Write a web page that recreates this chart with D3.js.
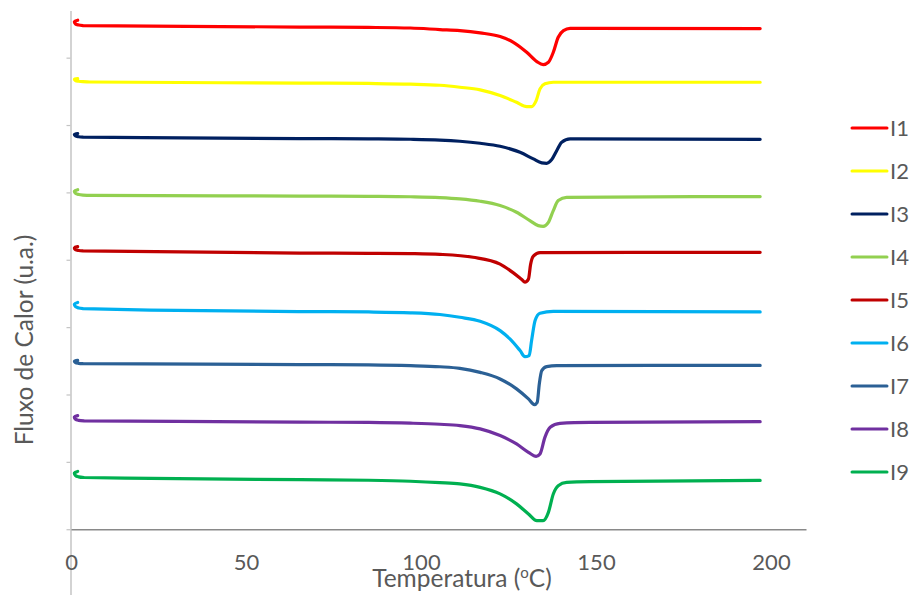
<!DOCTYPE html>
<html>
<head>
<meta charset="utf-8">
<script src="https://cdn.jsdelivr.net/npm/d3@7"></script>
<style>
  html, body { margin: 0; padding: 0; background: #ffffff; }
  svg { display: block; }
  text { font-family: Lato, "Open Sans", "Liberation Sans", sans-serif; fill: #595959; }
</style>
</head>
<body>
<svg id="chart" width="911" height="595"></svg>
<script>
// DSC thermograms: [temperature (°C), heat flow (arbitrary units, stacked)]
// The first five points of each run are the start-up transient, which curls back.
const seriesNames = ["I1", "I2", "I3", "I4", "I5", "I6", "I7", "I8", "I9"];
const seriesColors = ["#ff0000", "#ffff00", "#002060", "#92d050", "#c00000",
                      "#00b0f0", "#2b6095", "#7030a0", "#00b050"];

const I1 = [[1.9, 7.556], [1.0, 7.536], [1.3, 7.500], [2.2, 7.484], [3.4, 7.476],
  [65.4, 7.454], [85, 7.449], [97, 7.440], [105.4, 7.417],
  [111.1, 7.402], [116.9, 7.368], [122.6, 7.313], [126.4, 7.228], [130.2, 7.080],
  [133.1, 6.942], [134.9, 6.897], [136.4, 6.932], [137.8, 7.080], [139.2, 7.303],
  [140.7, 7.402], [142.6, 7.436], [148.3, 7.436], [196.9, 7.432]];
const I2 = [[1.9, 6.688], [1.0, 6.678], [1.3, 6.658], [2.2, 6.650], [3.4, 6.645],
  [5.4, 6.639], [65.4, 6.623], [85, 6.617], [97, 6.607],
  [105.4, 6.590], [111.1, 6.561], [116.9, 6.522], [122.6, 6.437], [127.3, 6.338],
  [130.2, 6.274], [131.6, 6.274], [132.9, 6.363], [134.0, 6.537], [135.4, 6.611],
  [137.8, 6.635], [196.9, 6.635]];
const I3 = [[1.9, 5.874], [1.0, 5.862], [1.3, 5.837], [2.2, 5.826], [3.4, 5.820],
  [65.4, 5.799], [85, 5.795], [97, 5.789], [105.4, 5.777],
  [111.1, 5.759], [116.9, 5.729], [122.6, 5.685], [128.3, 5.595], [132.1, 5.497],
  [134.5, 5.438], [135.9, 5.432], [137.3, 5.483], [138.8, 5.621], [140.2, 5.744],
  [142.6, 5.794], [196.9, 5.788]];
const I4 = [[1.9, 5.040], [1.0, 5.020], [1.3, 4.985], [2.2, 4.968], [3.4, 4.960],
  [5.4, 4.956], [65.4, 4.945], [85, 4.941], [97, 4.935],
  [105.4, 4.923], [111.1, 4.904], [116.9, 4.868], [122.6, 4.804], [127.3, 4.705],
  [131.1, 4.581], [133.5, 4.507], [134.9, 4.497], [136.4, 4.556], [137.8, 4.730],
  [139.2, 4.878], [141.6, 4.927], [196.9, 4.938]];
const I5 = [[1.9, 4.194], [1.0, 4.178], [1.3, 4.150], [2.2, 4.138], [3.4, 4.132],
  [65.4, 4.099], [85, 4.096], [97, 4.091], [105.4, 4.080],
  [114.9, 4.037], [122.6, 3.936], [126.3, 3.809], [128.8, 3.706], [129.7, 3.668],
  [130.7, 3.713], [131.3, 3.928], [132.1, 4.054], [134.0, 4.106], [196.9, 4.111]];
const I6 = [[1.9, 3.366], [1.0, 3.343], [1.3, 3.303], [2.2, 3.284], [3.4, 3.275],
  [22.6, 3.253], [65.4, 3.231], [85, 3.225], [97, 3.213],
  [105.4, 3.187], [111.1, 3.146], [116.9, 3.087], [122.6, 2.948], [125.4, 2.825],
  [128.3, 2.652], [129.7, 2.562], [130.9, 2.577], [131.6, 2.800], [132.6, 3.097],
  [134.0, 3.205], [137.8, 3.235], [196.9, 3.225]];
const I7 = [[1.9, 2.506], [1.0, 2.494], [1.3, 2.473], [2.2, 2.463], [3.4, 2.458],
  [65.4, 2.444], [85, 2.439], [97, 2.428], [105.4, 2.412],
  [111.1, 2.389], [116.9, 2.329], [122.6, 2.231], [127.3, 2.083], [130.7, 1.934],
  [132.4, 1.850], [133.2, 1.884], [133.8, 2.157], [134.5, 2.355], [135.9, 2.414],
  [138.8, 2.429], [196.9, 2.432]];
const I8 = [[1.9, 1.687], [1.0, 1.667], [1.3, 1.632], [2.2, 1.616], [3.7, 1.608],
  [65.4, 1.590], [85, 1.585], [97, 1.574], [105.4, 1.558],
  [111.1, 1.538], [116.9, 1.489], [122.6, 1.390], [127.3, 1.266], [130.7, 1.142],
  [132.9, 1.082], [134.0, 1.118], [135.4, 1.364], [136.9, 1.513], [139.7, 1.572],
  [148.3, 1.587], [196.9, 1.597]];
const I9 = [[1.9, 0.858], [1.0, 0.836], [1.3, 0.796], [2.2, 0.777], [3.7, 0.768],
  [15.4, 0.759], [65.4, 0.736], [85, 0.727], [97, 0.712],
  [105.4, 0.692], [111.1, 0.673], [116.9, 0.622], [122.6, 0.524], [127.3, 0.376],
  [130.7, 0.227], [133.1, 0.128], [134.9, 0.128], [136.4, 0.251], [137.8, 0.524],
  [139.2, 0.647], [141.6, 0.696], [148.3, 0.707], [196.9, 0.724]];

const seriesData = [I1, I2, I3, I4, I5, I6, I7, I8, I9];

const xTicks = [0, 50, 100, 150, 200];
const yTicks = [-1, 0, 1, 2, 3, 4, 5, 6, 7];

const svg = d3.select("#chart");

const x = d3.scaleLinear().domain([0, 210]).range([71, 806]);
const y = d3.scaleLinear().domain([-1, 7.7]).range([596.6, 10.5]);

// vertical axis: light grey line with small outward ticks, no labels
const yAxis = svg.append("g")
  .attr("transform", `translate(${x(0) - 0.5},0)`)
  .call(d3.axisLeft(y).tickValues(yTicks).tickSize(4).tickSizeOuter(0).tickFormat(""));
yAxis.select(".domain").attr("stroke", "#c4c4c4").attr("stroke-width", 1.5);
yAxis.selectAll(".tick line").attr("stroke", "#c4c4c4").attr("stroke-width", 1.2);

// horizontal axis crossing at zero
const xAxis = svg.append("g")
  .attr("transform", `translate(0,${y(0)})`)
  .call(d3.axisBottom(x).tickValues(xTicks).tickSize(0).tickSizeOuter(0).tickPadding(25));
xAxis.select(".domain").attr("stroke", "#898989").attr("stroke-width", 1.4);
xAxis.selectAll(".tick text")
  .style("font-size", "22px")
  .attr("fill", "#595959");

// thermogram curves: the curling start transient uses Catmull-Rom,
// the rest a monotone spline so the flat baselines do not overshoot
const HOOK = 5;
const hookLine = d3.line()
  .x(d => x(d[0]))
  .y(d => y(d[1]))
  .curve(d3.curveCatmullRom.alpha(0.5));
const mainLine = d3.line()
  .x(d => x(d[0]))
  .y(d => y(d[1]))
  .curve(d3.curveMonotoneX);

svg.append("g")
  .selectAll("path")
  .data(seriesData)
  .join("path")
  .attr("d", d => hookLine(d.slice(0, HOOK)) + mainLine(d.slice(HOOK - 1)))
  .attr("fill", "none")
  .attr("stroke", (d, i) => seriesColors[i])
  .attr("stroke-width", 3.2)
  .attr("stroke-linecap", "round")
  .attr("stroke-linejoin", "round");

// axis titles
const xTitle = svg.append("text")
  .attr("x", 462)
  .attr("y", 587)
  .attr("text-anchor", "middle")
  .style("font-size", "24.5px");
xTitle.append("tspan").text("Temperatura (");
xTitle.append("tspan").text("o").style("font-size", "15px").attr("dy", -9);
xTitle.append("tspan").text("C)").attr("dy", 9);

svg.append("text")
  .attr("transform", "translate(33,340) rotate(-90)")
  .attr("text-anchor", "middle")
  .style("font-size", "24.5px")
  .text("Fluxo de Calor (u.a.)");

// legend
const legend = svg.append("g")
  .selectAll("g")
  .data(seriesNames)
  .join("g")
  .attr("transform", (d, i) => `translate(852,${128 + i * 43})`);
legend.append("line")
  .attr("x1", 0).attr("x2", 35)
  .attr("stroke", (d, i) => seriesColors[i])
  .attr("stroke-width", 3)
  .attr("stroke-linecap", "round");
legend.append("text")
  .attr("x", 38)
  .attr("dy", "0.36em")
  .style("font-size", "22px")
  .text(d => d);
</script>
</body>
</html>
